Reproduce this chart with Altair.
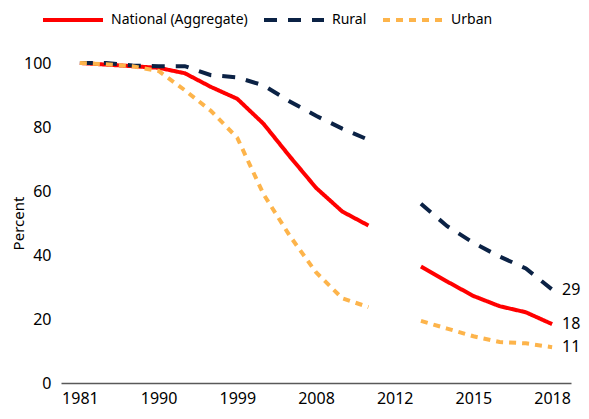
import altair as alt
import pandas as pd

years = ["1981", "1984", "1987", "1990", "1993", "1996", "1999", "2002", "2005", "2008",
         "2010", "2011", "2012", "2013", "2014", "2015", "2016", "2017", "2018"]
tick_years = ["1981", "1990", "1999", "2008", "2012", "2015", "2018"]

national = [100, 99.5, 99, 98.5, 96.8, 92.5, 88.8, 81, 70.8, 61, 53.6, 49.2, None,
            36.4, 31.7, 27.2, 24, 22.1, 18.4]
rural = [100, 100, 99.2, 99, 99, 96.2, 95.5, 93, 88, 83.5, 79.5, 76, None,
         56, 49, 43.8, 39.5, 35.8, 29.2]
urban = [100, 99.6, 99, 97.5, 91.5, 85, 76.6, 59, 46, 34.6, 26.5, 23.7, None,
         19.4, 17, 14.6, 12.8, 12.4, 11.2]

series_names = ["National (Aggregate)", "Rural", "Urban"]
end_labels = ["18", "29", "11"]
colors = ["#FF0000", "#0B2245", "#FDB44B"]
dashes = [[1, 0], [13, 11], [7, 6]]

rows = []
for name, vals in zip(series_names, [national, rural, urban]):
    for i, (yr, v) in enumerate(zip(years, vals)):
        if v is None:
            continue
        rows.append({"year": yr, "value": v, "series": name, "seg": 0 if i < 12 else 1})
df = pd.DataFrame(rows)

ends = pd.DataFrame({
    "year": [years[-1]] * 3,
    "value": [national[-1], rural[-1], urban[-1]],
    "label": end_labels,
    "series": series_names,
})

FONT = "Noto Sans"

x = alt.X(
    "year:O",
    sort=years,
    scale=alt.Scale(type="point", domain=years, padding=0.72),
    axis=alt.Axis(
        values=tick_years, labelAngle=0, ticks=False, title=None,
        domainColor="#595959", domainWidth=1.5, labelPadding=7,
        labelFont=FONT, labelFontSize=16, labelColor="#000000",
    ),
)
y = alt.Y(
    "value:Q",
    scale=alt.Scale(domain=[0, 100]),
    axis=alt.Axis(
        values=[0, 20, 40, 60, 80, 100], grid=False, domain=False, ticks=False,
        title="Percent", titleFont=FONT, titleFontSize=15, titleFontWeight="normal",
        titleColor="#000000", titlePadding=-3, labelPadding=10,
        labelFont=FONT, labelFontSize=16, labelColor="#000000",
    ),
)

legend_cfg = dict(
    title=None, orient="none", direction="horizontal",
    legendX=-20, legendY=-75,
    symbolType="stroke", symbolSize=3600, symbolStrokeWidth=4,
    labelFont=FONT, labelFontSize=14, labelColor="#000000",
    labelOffset=6, columnPadding=8, labelLimit=300,
)

lines = alt.Chart(df).mark_line(strokeWidth=4, strokeCap="butt").encode(
    x=x,
    y=y,
    color=alt.Color(
        "series:N",
        scale=alt.Scale(domain=series_names, range=colors),
        legend=alt.Legend(**legend_cfg),
    ),
    strokeDash=alt.StrokeDash(
        "series:N",
        scale=alt.Scale(domain=series_names, range=dashes),
        legend=alt.Legend(**legend_cfg),
    ),
    detail="seg:N",
    order="year:O",
)

labels = alt.Chart(ends).mark_text(
    align="left", baseline="middle", dx=10, font=FONT, fontSize=16, color="#000000"
).encode(x=x, y=y, text="label:N")

chart = alt.layer(lines, labels).properties(
    width=510,
    height=320,
    autosize=alt.AutoSizeParams(type="none"),
    padding={"left": 53, "top": 55, "right": 10, "bottom": 28},
).configure_view(stroke=None)

chart.save("out.html", embed_options={"renderer": "svg", "actions": False})
